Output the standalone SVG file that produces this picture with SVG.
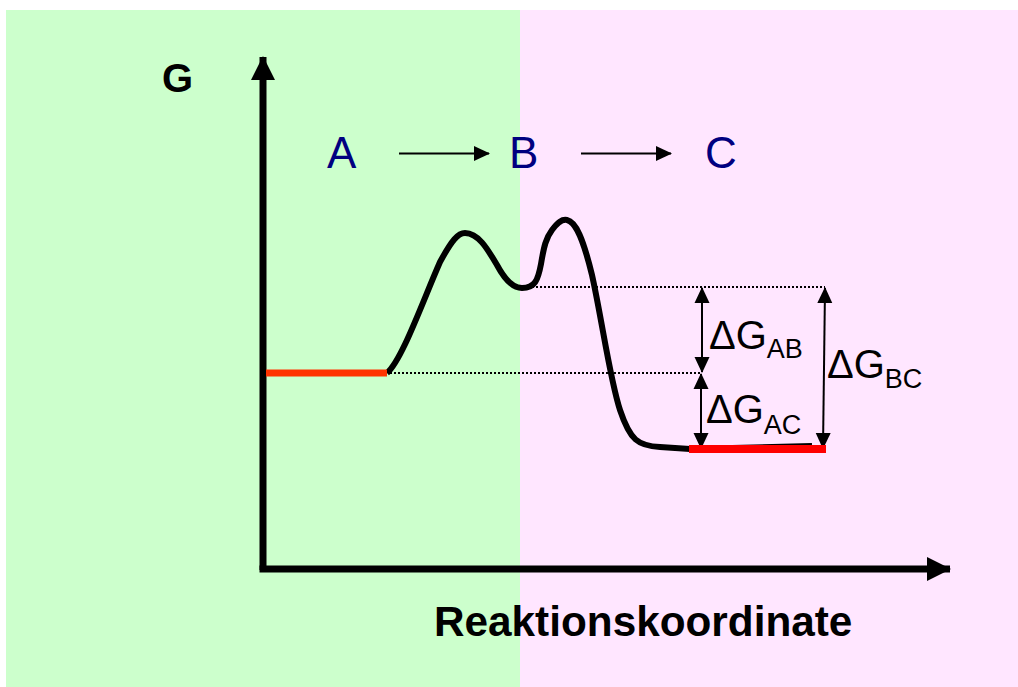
<svg xmlns="http://www.w3.org/2000/svg" width="1018" height="687" viewBox="0 0 1018 687">
<style>
.lbl{font-family:"Liberation Sans",Arial,sans-serif;}
.abc{font-family:"Liberation Sans",Arial,sans-serif;font-size:44px;fill:#000080;}
.dg{font-family:"Liberation Sans",Arial,sans-serif;font-size:40px;fill:#000;}
.sub{font-size:27px;}
.dot{stroke:#000;stroke-width:2.2;stroke-dasharray:2 2;fill:none;}
.dim{stroke:#000;stroke-width:2;fill:none;}
</style>
<defs>
<marker id="axh" markerUnits="userSpaceOnUse" markerWidth="24" markerHeight="24" refX="23" refY="12" orient="auto" viewBox="0 0 24 24"><path d="M0,0 L24,12 L0,24 Z" fill="#000"/></marker>
<marker id="rh" markerUnits="userSpaceOnUse" markerWidth="16" markerHeight="16" refX="15" refY="8" orient="auto" viewBox="0 0 16 16"><path d="M0,0.5 L16,8 L0,15.5 Z" fill="#000"/></marker>
<marker id="dh" markerUnits="userSpaceOnUse" markerWidth="16" markerHeight="16" refX="15" refY="8" orient="auto-start-reverse" viewBox="0 0 16 16"><path d="M0,0.5 L16,8 L0,15.5 Z" fill="#000"/></marker>
</defs>
<rect x="0" y="0" width="1018" height="687" fill="#fff"/>
<rect x="6" y="10" width="514" height="677" fill="#CCFFCC"/>
<rect x="520" y="10" width="498" height="677" fill="#FFE6FF"/>

<g id="axes">
<line x1="263" y1="570" x2="263" y2="57" stroke="#000" stroke-width="7" marker-end="url(#axh)"/>
<line x1="259.5" y1="569" x2="950" y2="569" stroke="#000" stroke-width="7" marker-end="url(#axh)"/>
<text id="label-G" class="lbl" x="162" y="92" font-size="40" font-weight="bold">G</text>
<text id="label-x" class="lbl" x="434" y="636" font-size="42.3" font-weight="bold">Reaktionskoordinate</text>
</g>

<g id="reaction">
<text id="A" class="abc" x="327" y="168">A</text>
<text id="B" class="abc" x="509" y="168">B</text>
<text id="C" class="abc" x="705" y="168">C</text>
</g>

<g id="connectors">
<line x1="399" y1="153.5" x2="489" y2="153.5" stroke="#000" stroke-width="2" marker-end="url(#rh)"/>
<line x1="581" y1="153.5" x2="671" y2="153.5" stroke="#000" stroke-width="2" marker-end="url(#rh)"/>
<line class="dot" x1="524" y1="287" x2="825" y2="287"/>
<line class="dot" x1="390" y1="373" x2="702" y2="373"/>
<line class="dim" x1="702" y1="288" x2="702" y2="372" marker-start="url(#dh)" marker-end="url(#dh)"/>
<line class="dim" x1="701" y1="374" x2="701" y2="448" marker-start="url(#dh)" marker-end="url(#dh)"/>
<line class="dim" x1="825" y1="288" x2="823" y2="448" marker-start="url(#dh)" marker-end="url(#dh)"/>
</g>

<g id="curve">
<path d="M387,373 C402,360 422,303 440,262 C452,240 458,233 465,233 C478,233 487,248 497,265 C505,280 514,288 522,288 C535,288 538,280 541,264 C544,246 546,238 552,230 C558,222 562,219 567,220 C576,222 583,238 592,275 C602,320 610,380 620,410 C630,440 638,446 660,447 L690,449 L812,446" fill="none" stroke="#000" stroke-width="6" stroke-linejoin="round"/>
<line x1="266" y1="373" x2="387" y2="373" stroke="#FF3300" stroke-width="7"/>
<line x1="689" y1="449" x2="826" y2="449" stroke="#FF0000" stroke-width="8"/>
</g>

<g id="dG-AB"><text class="dg" x="709" y="349">ΔG<tspan class="sub" dy="9">AB</tspan></text></g>
<g id="dG-AC"><text class="dg" x="706" y="423">ΔG<tspan class="sub" dy="11">AC</tspan></text></g>
<g id="dG-BC"><text class="dg" x="827" y="378">ΔG<tspan class="sub" dy="10">BC</tspan></text></g>
</svg>
